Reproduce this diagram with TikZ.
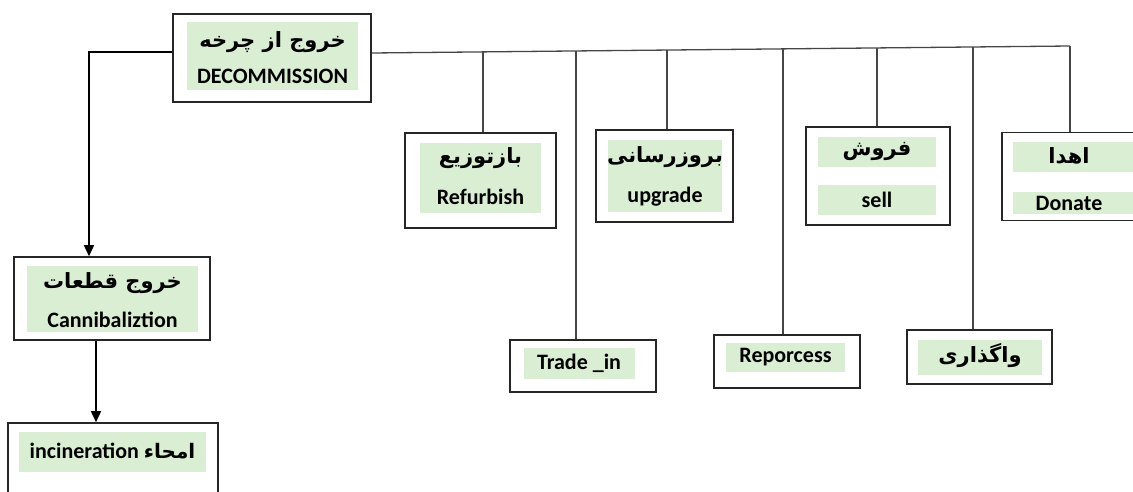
\documentclass[tikz,border=0pt]{standalone}
\usepackage{fontspec}
\setmainfont{Carlito}
\newfontfamily\fa[Script=Arabic]{DejaVu Sans}
\TeXXeTstate=1
\usetikzlibrary{arrows.meta}
\definecolor{lgreen}{RGB}{217,238,211}
\definecolor{conn}{RGB}{70,70,70}
\tikzset{
  outerbox/.style={draw=black!85, line width=1.6pt, fill=white, inner sep=0pt, minimum width=#1},
  greenbox/.style={fill=lgreen, inner sep=0pt, minimum width=#1, align=center},
  lat/.style={font=\fontsize{22}{26}\selectfont\bfseries},
  ar/.style={font=\fa\fontsize{21}{26}\selectfont\bfseries},
  conline/.style={draw=conn, line width=1.3pt},
  arr/.style={draw=black, line width=1.6pt, -{Triangle[width=10pt,length=11pt]}}
}
\newcommand{\rtl}[1]{\beginR #1\endR}
\begin{document}
\begin{tikzpicture}[x=1pt,y=-1pt]
\useasboundingbox (0,0) rectangle (1133,491);
% --- outer boxes ---
\node[outerbox=198pt, minimum height=88pt] (dec) at (272,58) {};
\node[outerbox=196pt, minimum height=83pt] (can) at (112,298.5) {};
\node[outerbox=210pt, minimum height=80pt] (inc) at (113,463) {};
\node[outerbox=151pt, minimum height=95pt] (ref) at (480.5,180.5) {};
\node[outerbox=137pt, minimum height=92pt] (upg) at (664.5,176) {};
\node[outerbox=144pt, minimum height=98pt] (sel) at (878,176) {};
\node[outerbox=140pt, minimum height=88pt] (don) at (1072,176.5) {};
\node[outerbox=146pt, minimum height=52pt] (trd) at (583,366) {};
\node[outerbox=146pt, minimum height=53pt] (rep) at (787,361.5) {};
\node[outerbox=145pt, minimum height=54pt] (vag) at (979.5,357) {};
% --- green inner boxes ---
\node[greenbox=171pt, minimum height=68pt] (decg) at (272.5,56) {};
\node[ar] at (272.5,42) {\rtl{خروج از چرخه}};
\node[lat] at (272.5,76) {DECOMMISSION};
\node[greenbox=171pt, minimum height=66pt] (cang) at (112.5,299) {};
\node[ar] at (112.5,283) {\rtl{خروج قطعات}};
\node[lat] at (112.5,320) {Cannibaliztion};
\node[greenbox=187pt, minimum height=40pt] (incg) at (112.5,452) {};
\node[lat] at (112.5,451) {incineration {\fa\fontsize{20}{26}\selectfont\bfseries\rtl{امحاء}}};
\node[greenbox=121pt, minimum height=70pt] (refg) at (480.5,178) {};
\node[ar] at (480.5,158) {\rtl{بازتوزیع}};
\node[lat] at (480.5,197) {Refurbish};
\node[greenbox=114pt, minimum height=72pt] (upgg) at (665,176) {};
\node[ar] at (665,157) {\rtl{بروزرسانی}};
\node[lat] at (665,197) {upgrade};
\node[greenbox=118pt, minimum height=30pt] (selg1) at (877,152) {};
\node[ar] at (877,151) {\rtl{فروش}};
\node[greenbox=118pt, minimum height=30pt, lat] (selg2) at (877,200) {sell};
\node[greenbox=122pt, minimum height=30pt] (dong1) at (1074,157) {};
\node[ar] at (1069,156) {\rtl{اهدا}};
\node[greenbox=122pt, minimum height=22pt] (dong2) at (1074,203) {};
\node[lat] at (1069,203) {Donate};
\node[greenbox=111pt, minimum height=31pt, lat] (trdg) at (579,363) {Trade \_in};
\node[greenbox=119pt, minimum height=29pt, lat] (repg) at (785.5,357.5) {Reporcess};
\node[greenbox=124pt, minimum height=35pt] (vagg) at (980,357.5) {};
\node[ar] at (980,356) {\rtl{واگذاری}};
% --- bus coordinates ---
\coordinate (bstart) at (dec.east |- 0,53);
\coordinate (bend) at (1070,46);
\coordinate (b1) at (483,51.9);
\coordinate (b2) at (576,50.9);
\coordinate (b3) at (667,50.0);
\coordinate (b4) at (783,48.9);
\coordinate (b5) at (877,47.9);
\coordinate (b6) at (973,47.0);
\coordinate (lcorner) at (89,52);
% --- connectors ---
\draw[conline] (bstart) -- (bend);
\draw[conline] (b1) -- (b1 |- ref.north);
\draw[conline] (b2) -- (b2 |- trd.north);
\draw[conline] (b3) -- (b3 |- upg.north);
\draw[conline] (b4) -- (b4 |- rep.north);
\draw[conline] (b5) -- (b5 |- sel.north);
\draw[conline] (b6) -- (b6 |- vag.north);
\draw[conline] (bend) -- (bend |- don.north);
\draw[arr] (dec.west |- lcorner) -- (lcorner) -- (lcorner |- can.north);
\draw[arr] (96,0 |- can.south) -- (96,0 |- inc.north);
\end{tikzpicture}
\end{document}
